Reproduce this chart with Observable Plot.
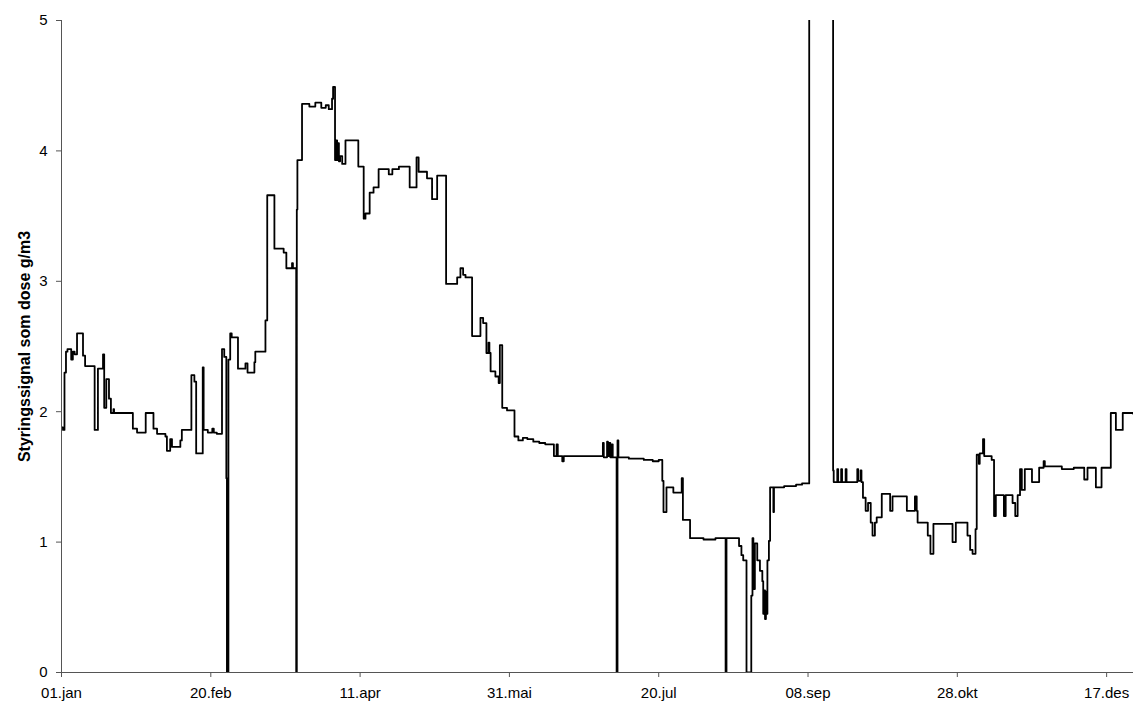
<!DOCTYPE html>
<html>
<head>
<meta charset="utf-8">
<script src="https://cdn.jsdelivr.net/npm/d3@7"></script>
<script src="https://cdn.jsdelivr.net/npm/@observablehq/plot@0.6"></script>
<style>
  html, body { margin: 0; padding: 0; background: #fff; }
  #chart svg { display: block; }
  g[aria-label="y-axis label"] text { font-weight: bold; font-size: 16px; }
</style>
</head>
<body>
<div id="chart"></div>
<script>
// Day of year (0 = 01.jan) where each step starts
const days = [
  0, 0.5, 1.0, 1.5, 2.0, 3.25, 3.8, 4.4, 5.2, 7.2, 7.9, 11.1, 12.2, 13.9, 14.3, 15.0, 15.9, 16.55, 17.4, 17.6,
  23.9, 25.3, 28.2, 30.8, 32.0, 34.8, 35.3, 36.4, 37.0, 39.8, 40.3, 43.5, 44.5, 45.1, 47.3, 47.6, 49, 50.5, 51, 52,
  53.75, 54.5, 55.2, 55.4, 55.9, 56.5, 57.0, 59.1, 61.6, 62.3, 64.6, 64.9, 68.3, 68.9, 71.3, 74.4, 75.3, 77.2, 77.5,
  78.6, 78.8, 79.0, 80.55, 83, 85, 87, 88.5, 89.5, 90.6, 90.95, 91.6, 92.0, 92.3, 92.6, 92.9, 93.3, 94.0, 95.1,
  99.4, 101.2, 101.8, 103.2, 104.5, 106.2, 109.6, 110.8, 113, 116.6, 118.9, 119.6, 122.4, 124.1, 125.8, 128.8,
  132.5, 133.6, 134.5, 135.3, 137.5, 140.3, 141.2, 142.3, 143.0, 143.3, 143.7, 145.3, 146.4, 146.8, 147.6, 149.2,
  151.7, 153, 154.5, 156, 158, 160, 162, 164.9, 165.8, 166.2, 167.7, 168.2, 181.3, 181.6, 182.7, 183.0, 183.5,
  183.8, 184.3, 184.6, 185.9, 186.2, 186.5, 190, 195, 198, 200, 201.2, 201.6, 202.6, 204.9, 207.7, 208.1, 210.5,
  215, 219, 222.4, 222.7, 226.9, 227.7, 228.3, 229.4, 231.0, 231.4, 231.7, 232.2, 233.0, 233.9, 234.7, 235.0,
  235.3, 235.6, 235.9, 236.2, 236.4, 236.9, 237.3, 238.4, 238.6, 242, 246, 248, 250.4, 258.4, 258.6, 259.8,
  260.1, 261.1, 261.4, 262.6, 262.9, 266.5, 266.8, 267.6, 267.9, 268.4, 269.3, 270.1, 271.0, 271.6, 272.4,
  273.0, 274.7, 277.5, 278.3, 283.1, 285.8, 286.4, 286.7, 290.1, 291.0, 292.0, 298.4, 299.5, 303.4, 304.3,
  305.1, 306.1, 306.5, 307.2, 307.5, 308.6, 309.0, 311.5, 312.3, 312.9, 315.6, 316.2, 318.5, 319.4, 320.2,
  321.0, 321.6, 322.6, 325.0, 327.4, 328.9, 329.3, 335, 339, 342.5, 343.6, 346.4, 348.3, 351.4, 353.1, 355.4, 359
];

// Control signal as dose, g/m3
const dose = [
  1.88, 1.86, 2.30, 2.46, 2.48, 2.40, 2.46, 2.44, 2.60, 2.43, 2.35, 1.86, 2.33, 2.44, 2.03, 2.25, 2.10, 1.99, 2.02, 1.99,
  1.87, 1.84, 1.99, 1.87, 1.83, 1.81, 1.70, 1.79, 1.73, 1.78, 1.86, 2.28, 2.23, 1.68, 2.34, 1.86, 1.84, 1.87, 1.84, 1.83,
  2.48, 2.42, 1.49, 0, 2.40, 2.60, 2.57, 2.33, 2.37, 2.30, 2.38, 2.46, 2.70, 3.66, 3.25, 3.22, 3.10, 3.14, 3.10,
  0, 3.55, 3.93, 4.36, 4.34, 4.37, 4.33, 4.35, 4.32, 4.40, 4.49, 3.93, 4.08, 3.93, 4.06, 3.92, 3.96, 3.90, 4.08,
  3.88, 3.48, 3.52, 3.68, 3.72, 3.86, 3.82, 3.86, 3.88, 3.72, 3.95, 3.84, 3.79, 3.63, 3.81, 2.98,
  3.03, 3.10, 3.05, 3.03, 2.58, 2.72, 2.68, 2.45, 2.53, 2.45, 2.31, 2.27, 2.22, 2.51, 2.03, 2.01,
  1.81, 1.78, 1.80, 1.79, 1.77, 1.76, 1.75, 1.66, 1.75, 1.66, 1.62, 1.66, 1.76, 1.65, 1.77, 1.66, 1.76,
  1.65, 1.75, 1.65, 0, 1.78, 1.65, 1.64, 1.63, 1.62, 1.63, 1.47, 1.23, 1.42, 1.38, 1.49, 1.17, 1.03,
  1.02, 1.03, 0, 1.03, 0.97, 0.90, 0.86, 0, 0.59, 1.03, 0.64, 0.99, 0.86, 0.78, 0.70, 0.45,
  0.63, 0.41, 0.62, 0.45, 0.86, 1.01, 1.42, 1.23, 1.42, 1.43, 1.44, 1.45, 6, 1.55, 1.46, 1.56,
  1.46, 1.56, 1.46, 1.56, 1.46, 1.56, 1.47, 1.55, 1.46, 1.34, 1.24, 1.30, 1.15, 1.05, 1.15,
  1.19, 1.37, 1.24, 1.35, 1.24, 1.35, 1.24, 1.15, 1.05, 0.91, 1.14, 1.00, 1.15, 1.05, 0.94,
  0.91, 1.10, 1.67, 1.60, 1.68, 1.79, 1.66, 1.63, 1.20, 1.36, 1.20, 1.36, 1.30, 1.20, 1.36,
  1.56, 1.40, 1.56, 1.46, 1.57, 1.62, 1.58, 1.56, 1.57, 1.48, 1.57, 1.42, 1.57, 1.99, 1.86, 1.99, 1.98
];

const tickDays = [0, 50, 100, 150, 200, 250, 300, 350];
const tickLabels = ["01.jan", "20.feb", "11.apr", "31.mai", "20.jul", "08.sep", "28.okt", "17.des"];
const yTicks = [0, 1, 2, 3, 4, 5];
const yLabel = "Styringssignal som dose g/m3";

const data = days.map((d, i) => ({day: d, v: dose[i]}));

const chart = Plot.plot({
  width: 1135,
  height: 704,
  marginLeft: 61,
  marginRight: 2,
  marginTop: 20,
  marginBottom: 32,
  style: {fontFamily: "'Liberation Sans', Arial, sans-serif", fontSize: "15px", color: "#000", background: "#fff"},
  x: {domain: [0, 359]},
  y: {domain: [0, 5]},
  marks: [
    Plot.line(data, {x: "day", y: "v", curve: "step-after", stroke: "#000", strokeWidth: 1.8, clip: true}),
    Plot.ruleY([0], {stroke: "#555", strokeWidth: 1}),
    Plot.ruleX([0], {stroke: "#555", strokeWidth: 1}),
    Plot.axisX({ticks: tickDays, tickFormat: (d) => tickLabels[tickDays.indexOf(d)], tickSize: 5, tickPadding: 10, stroke: "#555", label: null, fill: "#000"}),
    Plot.axisY({ticks: yTicks, tickFormat: d => String(d), tickSize: 5, tickPadding: 9, stroke: "#555", fill: "#000",
      label: yLabel, labelAnchor: "center", labelArrow: "none", labelOffset: 43})
  ]
});
document.getElementById("chart").appendChild(chart);
</script>
</body>
</html>
